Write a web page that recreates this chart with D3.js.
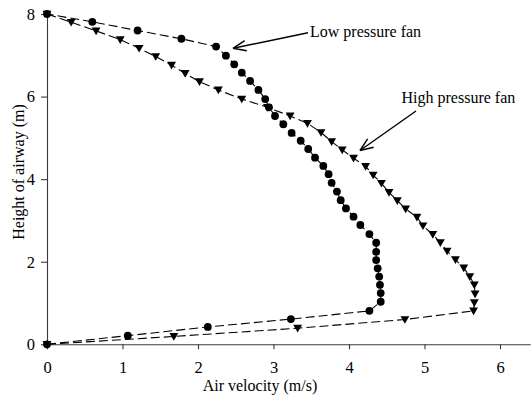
<!DOCTYPE html>
<html>
<head>
<meta charset="utf-8">
<script src="https://cdn.jsdelivr.net/npm/d3@7"></script>
<style>
  html, body { margin: 0; padding: 0; background: #fff; }
  svg { display: block; }
  text { font-family: "Liberation Serif", "Times New Roman", serif; fill: #000; }
</style>
</head>
<body>
<script>
// ---- data ----
const lowVelocity = [0, 1.07, 2.13, 3.23, 4.27, 4.42, 4.42, 4.41, 4.40, 4.38, 4.36, 4.36, 4.36, 4.27, 4.15, 4.06, 3.96, 3.89, 3.84, 3.77, 3.73, 3.66, 3.55, 3.46, 3.36, 3.24, 3.13, 3.02, 2.94, 2.89, 2.80, 2.69, 2.58, 2.48, 2.37, 2.24, 1.78, 1.20, 0.60, 0];
const lowHeight   = [0, 0.21, 0.42, 0.61, 0.81, 1.03, 1.24, 1.44, 1.64, 1.84, 2.04, 2.24, 2.46, 2.67, 2.89, 3.09, 3.29, 3.49, 3.70, 3.91, 4.12, 4.32, 4.52, 4.73, 4.93, 5.12, 5.33, 5.53, 5.74, 5.94, 6.16, 6.38, 6.58, 6.78, 6.99, 7.21, 7.40, 7.60, 7.81, 8];
const highVelocity = [0, 1.68, 3.32, 4.74, 5.65, 5.66, 5.67, 5.66, 5.60, 5.52, 5.41, 5.30, 5.21, 5.11, 4.98, 4.90, 4.75, 4.64, 4.53, 4.43, 4.32, 4.22, 4.06, 3.91, 3.77, 3.63, 3.45, 3.22, 2.92, 2.58, 2.27, 2.02, 1.83, 1.65, 1.44, 1.22, 0.97, 0.65, 0.32, 0];
const highHeight   = [0, 0.19, 0.39, 0.60, 0.81, 1.01, 1.22, 1.44, 1.64, 1.85, 2.05, 2.26, 2.46, 2.66, 2.87, 3.08, 3.28, 3.48, 3.68, 3.90, 4.10, 4.31, 4.51, 4.71, 4.91, 5.13, 5.35, 5.53, 5.74, 5.94, 6.16, 6.36, 6.56, 6.76, 6.97, 7.17, 7.38, 7.59, 7.80, 8];
const xTicks = [0, 1, 2, 3, 4, 5, 6];
const yTicks = [0, 2, 4, 6, 8];
const xTitle = "Air velocity (m/s)";
const yTitle = "Height of airway (m)";
const lowLabel = "Low pressure fan";
const highLabel = "High pressure fan";

// ---- layout ----
const W = 531, H = 397;
const svg = d3.select("body").append("svg").attr("width", W).attr("height", H);

const x = d3.scaleLinear().domain([0, 6.4]).range([47, 530.2]);
const y = d3.scaleLinear().domain([0, 8]).range([344.3, 14]);

// axes
const xAxis = d3.axisBottom(x).tickValues(xTicks).tickFormat(d3.format("d")).tickSizeInner(5).tickSizeOuter(0).tickPadding(12);
const yAxis = d3.axisLeft(y).tickValues(yTicks).tickFormat(d3.format("d")).tickSizeInner(6).tickSizeOuter(0).tickPadding(6);

const gx = svg.append("g").attr("transform", `translate(0,${y(0)})`).call(xAxis);
const gy = svg.append("g").attr("transform", `translate(${x(0)},0)`).call(yAxis);
[gx, gy].forEach(g => {
  g.selectAll("path.domain").attr("stroke", "#3a3a3a").attr("stroke-width", 1.1);
  g.selectAll(".tick line").attr("stroke", "#3a3a3a").attr("stroke-width", 1.1);
  g.selectAll(".tick text").attr("font-family", "'Liberation Serif', 'Times New Roman', serif").attr("font-size", 16.5).attr("fill", "#000");
});

// axis titles
svg.append("text").attr("x", 260).attr("y", 391).attr("text-anchor", "middle").attr("font-size", 16).text(xTitle);
svg.append("text").attr("transform", `translate(23.5,172) rotate(-90)`).attr("text-anchor", "middle").attr("font-size", 16).text(yTitle);

// series
const lowData = lowVelocity.map((v, i) => ({ v, h: lowHeight[i] }));
const highData = highVelocity.map((v, i) => ({ v, h: highHeight[i] }));
const line = d3.line().x(d => x(d.v)).y(d => y(d.h));

[lowData, highData].forEach(data => {
  svg.append("path").datum(data).attr("d", line)
    .attr("fill", "none").attr("stroke", "#000").attr("stroke-width", 1.1)
    .attr("stroke-dasharray", "9,4");
});

svg.append("g").selectAll("path").data(highData).join("path")
  .attr("d", d3.symbol(d3.symbolTriangle, 34))
  .attr("transform", d => `translate(${x(d.v)},${y(d.h) - 0.8}) rotate(180)`)
  .attr("fill", "#000");

svg.append("g").selectAll("circle").data(lowData).join("circle")
  .attr("cx", d => x(d.v)).attr("cy", d => y(d.h)).attr("r", 3.9)
  .attr("fill", "#000");

// annotations
function arrow(x1, y1, x2, y2) {
  svg.append("line").attr("x1", x1).attr("y1", y1).attr("x2", x2).attr("y2", y2)
    .attr("stroke", "#000").attr("stroke-width", 1.4);
  const ang = Math.atan2(y1 - y2, x1 - x2);
  const len = 14, spread = 0.38;
  [ang - spread, ang + spread].forEach(a => {
    svg.append("line").attr("x1", x2).attr("y1", y2)
      .attr("x2", x2 + len * Math.cos(a)).attr("y2", y2 + len * Math.sin(a))
      .attr("stroke", "#000").attr("stroke-width", 1.4);
  });
}
arrow(308, 32.8, 233, 48.3);
arrow(416, 111, 360, 150.5);

svg.append("text").attr("x", 310).attr("y", 36.5).attr("font-size", 16).text(lowLabel);
svg.append("text").attr("x", 401.5).attr("y", 102.5).attr("font-size", 16).text(highLabel);
</script>
</body>
</html>
